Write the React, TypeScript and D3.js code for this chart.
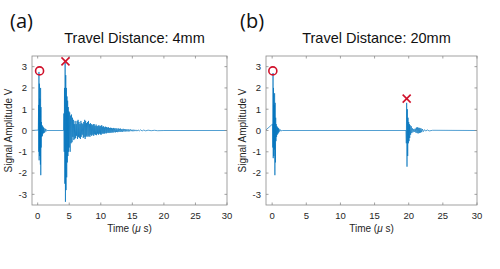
import React from "react";
import * as d3 from "d3";

const xTicks = [0, 5, 10, 15, 20, 25, 30];
const yTicks = [-3, -2, -1, 0, 1, 2, 3];
const panelLabels = ["(a)", "(b)"];
const titles = ["Travel Distance: 4mm", "Travel Distance: 20mm"];

const signalA: [number, number][] = [
  [-1, 0], [0.1, 0.02], [0.15, 1.2], [0.18, -1.0], [0.2, 2.75], [0.23, -1.4], [0.27, 2.2], [0.3, -1.2],
  [0.33, 1.5], [0.36, -0.9], [0.4, 1.0], [0.43, -1.6], [0.46, 2.0], [0.49, -2.1], [0.52, 1.1], [0.55, -0.8],
  [0.6, 0.4], [0.65, -0.3], [0.7, 0.25], [0.75, -0.25], [0.8, 0.2], [0.85, -0.15], [0.9, 0.15], [0.95, -0.12],
  [1.0, 0.12], [1.1, -0.1], [1.2, 0.08], [1.3, -0.05], [1.4, 0.04], [1.5, 0], [4.1, 0],
  [4.15, 0.8], [4.2, -1.0], [4.25, 2.0], [4.3, -2.5], [4.35, 3.2], [4.4, -3.35], [4.45, 2.6], [4.5, -2.8],
  [4.55, 2.0], [4.6, -2.2], [4.65, 1.6], [4.7, -1.5], [4.75, 1.4], [4.8, -1.2], [4.85, 1.1], [4.9, -1.0],
  [4.95, 0.9], [5.0, -0.8], [5.07, 0.85], [5.15, -1.0], [5.21, 0.7], [5.3, -0.6], [5.36, 0.75], [5.45, -0.55],
  [5.52, 0.6], [5.58, -0.3], [5.66, 0.5], [5.73, -0.45], [5.8, 0.3], [5.88, -0.4], [5.93, 0.45], [6.02, -0.35],
  [6.1, 0.3], [6.16, -0.25], [6.25, 0.45], [6.31, -0.4], [6.4, 0.5], [6.47, -0.3], [6.55, 0.4], [6.6, -0.35],
  [6.7, 0.3], [6.77, -0.4], [6.85, 0.45], [6.9, -0.3], [7.0, 0.35], [7.06, -0.2], [7.15, 0.3], [7.22, -0.35],
  [7.3, 0.4], [7.36, -0.3], [7.45, 0.5], [7.52, -0.4], [7.6, 0.45], [7.66, -0.3], [7.75, 0.35], [7.8, -0.25],
  [7.9, 0.4], [7.97, -0.3], [8.05, 0.45], [8.12, -0.25], [8.2, 0.3], [8.28, -0.3], [8.35, 0.35], [8.42, -0.2],
  [8.5, 0.3], [8.56, -0.25], [8.65, 0.25], [8.73, -0.2], [8.8, 0.3], [8.88, -0.25], [8.95, 0.3], [9.03, -0.18],
  [9.1, 0.22], [9.17, -0.2], [9.26, 0.28], [9.33, -0.22], [9.4, 0.2], [9.48, -0.15], [9.55, 0.22], [9.63, -0.2],
  [9.7, 0.25], [9.77, -0.15], [9.85, 0.2], [9.93, -0.18], [10.0, 0.22], [10.06, -0.2], [10.15, 0.25], [10.22, -0.15],
  [10.3, 0.18], [10.38, -0.14], [10.45, 0.2], [10.53, -0.16], [10.6, 0.15], [10.67, -0.12], [10.76, 0.18], [10.84, -0.14],
  [10.9, 0.16], [10.98, -0.12], [11.07, 0.14], [11.15, -0.1], [11.22, 0.15], [11.3, -0.12], [11.37, 0.12], [11.46, -0.1],
  [11.55, 0.13], [11.62, -0.11], [11.7, 0.12], [11.79, -0.09], [11.86, 0.1], [11.95, -0.1], [12.03, 0.12], [12.12, -0.08],
  [12.2, 0.1], [12.31, -0.09], [12.4, 0.11], [12.48, -0.07], [12.57, 0.09], [12.68, -0.08], [12.77, 0.1], [12.85, -0.06],
  [12.96, 0.08], [13.05, -0.07], [13.13, 0.09], [13.24, -0.06], [13.35, 0.07], [13.43, -0.06], [13.55, 0.08], [13.66, -0.05],
  [13.75, 0.06], [13.87, -0.05], [13.98, 0.07], [14.1, -0.04], [14.2, 0.05], [14.33, -0.05], [14.45, 0.06], [14.58, -0.04],
  [14.7, 0.05], [14.84, -0.03], [14.95, 0.04], [15.1, -0.04], [15.25, 0.04], [15.4, -0.03], [15.57, 0.03], [15.72, -0.03],
  [15.9, 0.03], [16.1, -0.02], [16.3, 0.03], [16.55, -0.02], [16.8, 0.02], [17.1, -0.015], [17.5, 0.015], [18.0, -0.01],
  [18.5, 0.01], [19.0, -0.01], [20, 0], [30, 0],
];

const signalB: [number, number][] = [
  [-1, 0], [0.05, 0.3], [0.1, -0.8], [0.13, 2.7], [0.16, -1.3], [0.2, 2.0], [0.24, -1.2], [0.28, 1.2],
  [0.32, -0.9], [0.36, 1.75], [0.4, -2.1], [0.44, 1.3], [0.48, -1.5], [0.52, 0.6], [0.56, -0.5], [0.6, 0.3],
  [0.65, -0.3], [0.7, 0.2], [0.75, -0.2], [0.8, 0.15], [0.85, -0.15], [0.9, 0.12], [0.95, -0.1], [1.0, 0.08],
  [1.1, -0.05], [1.2, 0.04], [1.3, -0.02], [1.5, 0], [19.6, 0], [19.65, -0.6], [19.7, 1.3], [19.75, -1.7],
  [19.8, 1.0], [19.85, -1.2], [19.9, 0.6], [19.95, -0.6], [20.0, 0.4], [20.05, -0.5], [20.1, 0.3], [20.15, -0.35],
  [20.2, 0.25], [20.28, -0.2], [20.37, 0.2], [20.45, -0.12], [20.56, 0.1], [20.64, -0.08], [20.75, 0.07], [20.86, -0.06],
  [20.95, 0.09], [21.05, -0.1], [21.13, 0.14], [21.22, -0.12], [21.3, 0.15], [21.38, -0.14], [21.47, 0.13], [21.55, -0.12],
  [21.63, 0.12], [21.72, -0.1], [21.8, 0.1], [21.9, -0.08], [22.0, 0.07], [22.15, -0.05], [22.32, 0.04], [22.5, -0.03],
  [22.7, 0.03], [23.0, -0.02], [23.5, 0.01], [30, 0],
];

const circleMarkers: [number, number][][] = [[[0.3, 2.8]], [[0.1, 2.8]]];
const crossMarkers: [number, number][][] = [[[4.4, 3.25]], [[19.7, 1.5]]];
const signals = [signalA, signalB];

const panels = [
  { left: 32, right: 227, labelX: 10 },
  { left: 266, right: 477, labelX: 240 },
];
const TOP = 56;
const BOTTOM = 205;
const FONT = "'Liberation Sans', Arial, Helvetica, sans-serif";
const AXIS = "#8a8a8a";
const TEXT = "#262626";
const BLUE = "#0072BD";
const RED = "#D0112B";

function Panel({ idx }: { idx: number }) {
  const p = panels[idx];
  const x = d3.scaleLinear().domain([-0.9, 30]).range([p.left, p.right]);
  const y = d3.scaleLinear().domain([-3.5, 3.5]).range([BOTTOM, TOP]);
  const line = d3
    .line<[number, number]>()
    .x((d) => x(d[0]))
    .y((d) => y(d[1]));
  const cx = (p.left + p.right) / 2;
  const tl = 2.5;
  return (
    <g>
      <text x={p.labelX} y={28} fontSize={20} fontFamily="'Open Sans', sans-serif" fill="#111">
        {panelLabels[idx]}
      </text>
      <text x={cx + 5} y={43} fontSize={14.5} fontFamily={FONT} fill="#111" textAnchor="middle">
        {titles[idx]}
      </text>
      <rect x={p.left} y={TOP} width={p.right - p.left} height={BOTTOM - TOP} fill="#fff" />
      <clipPath id={`clip${idx}`}>
        <rect x={p.left} y={TOP} width={p.right - p.left} height={BOTTOM - TOP} />
      </clipPath>
      <g clipPath={`url(#clip${idx})`}>
        <path d={line(signals[idx]) || ""} fill="none" stroke={BLUE} strokeWidth={0.8} strokeOpacity={0.85} />
      </g>
      <rect
        x={p.left}
        y={TOP}
        width={p.right - p.left}
        height={BOTTOM - TOP}
        fill="none"
        stroke={AXIS}
        strokeWidth={0.8}
      />
      {xTicks.map((t) => (
        <g key={`xt${t}`}>
          <line x1={x(t)} x2={x(t)} y1={BOTTOM} y2={BOTTOM - tl} stroke={AXIS} strokeWidth={0.8} />
          <line x1={x(t)} x2={x(t)} y1={TOP} y2={TOP + tl} stroke={AXIS} strokeWidth={0.8} />
          <text x={x(t)} y={219} fontSize={9.5} fontFamily={FONT} fill={TEXT} textAnchor="middle">
            {t}
          </text>
        </g>
      ))}
      {yTicks.map((t) => (
        <g key={`yt${t}`}>
          <line x1={p.left} x2={p.left + tl} y1={y(t)} y2={y(t)} stroke={AXIS} strokeWidth={0.8} />
          <line x1={p.right} x2={p.right - tl} y1={y(t)} y2={y(t)} stroke={AXIS} strokeWidth={0.8} />
          <text x={p.left - 5} y={y(t) + 3.3} fontSize={9.5} fontFamily={FONT} fill={TEXT} textAnchor="end">
            {t}
          </text>
        </g>
      ))}
      <text x={cx} y={232} fontSize={10} fontFamily={FONT} fill={TEXT} textAnchor="middle">
        Time (<tspan fontStyle="italic">μ</tspan> s)
      </text>
      <text
        transform={`translate(${p.left - 20},${(TOP + BOTTOM) / 2}) rotate(-90)`}
        fontSize={10}
        fontFamily={FONT}
        fill={TEXT}
        textAnchor="middle"
      >
        Signal Amplitude V
      </text>
      {circleMarkers[idx].map((m, i) => (
        <circle key={`c${i}`} cx={x(m[0])} cy={y(m[1])} r={4} fill="none" stroke={RED} strokeWidth={1.6} />
      ))}
      {crossMarkers[idx].map((m, i) => (
        <g key={`x${i}`} stroke={RED} strokeWidth={1.6}>
          <line x1={x(m[0]) - 4} x2={x(m[0]) + 4} y1={y(m[1]) - 4} y2={y(m[1]) + 4} />
          <line x1={x(m[0]) - 4} x2={x(m[0]) + 4} y1={y(m[1]) + 4} y2={y(m[1]) - 4} />
        </g>
      ))}
    </g>
  );
}

export default function App() {
  return (
    <svg
      width={500}
      height={269}
      viewBox="0 0 500 269"
      style={{ position: "absolute", left: 0, top: 0, background: "#fff" }}
    >
      <rect width={500} height={269} fill="#fff" />
      <Panel idx={0} />
      <Panel idx={1} />
    </svg>
  );
}
